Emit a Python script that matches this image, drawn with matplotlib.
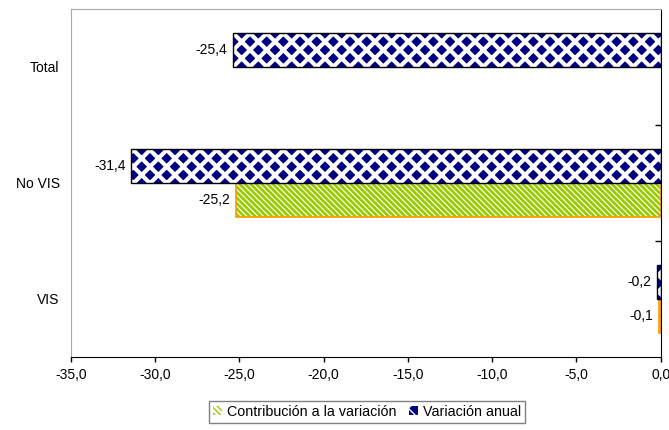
import numpy as np
import matplotlib.pyplot as plt

# datos del grafico
categorias = ['VIS', 'No VIS', 'Total']
variacion_anual = [-0.2, -31.4, -25.4]
contribucion = [-0.1, -25.2, np.nan]  # Total sin barra de contribucion
xticks = [-35, -30, -25, -20, -15, -10, -5, 0]

plt.rcParams['font.family'] = ['Liberation Sans', 'DejaVu Sans']
plt.rcParams['font.size'] = 10


def coma(v):
    return f"{v:.1f}".replace('.', ',')


fig = plt.figure(figsize=(6.69, 4.30), dpi=100)
ax = fig.add_axes([70.7 / 669, 1 - 357 / 430, 590 / 669, 348 / 430])

y = np.arange(len(categorias))
h = 0.29

# contribucion: rayas verdes con borde naranja
b1 = ax.barh(y - h / 2, contribucion, height=h, color='white', edgecolor='#99CC00',
             hatch='\\' * 6, linewidth=0, label='Contribución a la variación')
ax.barh(y - h / 2, contribucion, height=h, fill=False, edgecolor='#FF9900', linewidth=1.2)

# variacion anual: azul marino con rombos
b2 = ax.barh(y + h / 2, variacion_anual, height=h, color='#000080', edgecolor='white',
             hatch='xx', linewidth=0, label='Variación anual')
ax.barh(y + h / 2, variacion_anual, height=h, fill=False, edgecolor='black', linewidth=1)

for p in b1:
    if hasattr(p, 'set_hatch_linewidth'):
        p.set_hatch_linewidth(2.0)
for p in b2:
    if hasattr(p, 'set_hatch_linewidth'):
        p.set_hatch_linewidth(3.0)

# etiquetas de datos
for serie, off in [(contribucion, -h / 2), (variacion_anual, h / 2)]:
    for yi, v in zip(y, serie):
        if np.isfinite(v):
            ax.annotate(coma(v), xy=(v, yi + off), xytext=(-4, 0),
                        textcoords='offset points', ha='right', va='center')

ax.set_xlim(-35, 0)
ax.set_ylim(-0.5, 2.5)
ax.set_xticks(xticks, [coma(v) for v in xticks])
ax.tick_params(axis='x', direction='out', length=3.6, width=1, pad=4.5)

ax.set_yticks(y, categorias)
ax.tick_params(axis='y', which='major', length=0, pad=8)
ax.set_yticks([0.5, 1.5], minor=True)
ax.tick_params(axis='y', which='minor', left=False, right=True, direction='in', length=4, width=1)

for s in ['left', 'top']:
    ax.spines[s].set_color('#A6A6A6')
for s in ['right', 'bottom']:
    ax.spines[s].set_color('black')

fig.legend(handles=[b1, b2], loc='center', bbox_to_anchor=(367 / 669, 1 - 412 / 430),
           ncol=2, fancybox=False, edgecolor='#808080', framealpha=1, fontsize=10.3,
           handlelength=0.6, handleheight=0.6, handletextpad=0.35,
           columnspacing=0.9, borderpad=0.3, borderaxespad=0)

fig.savefig('out.png', dpi=100)
